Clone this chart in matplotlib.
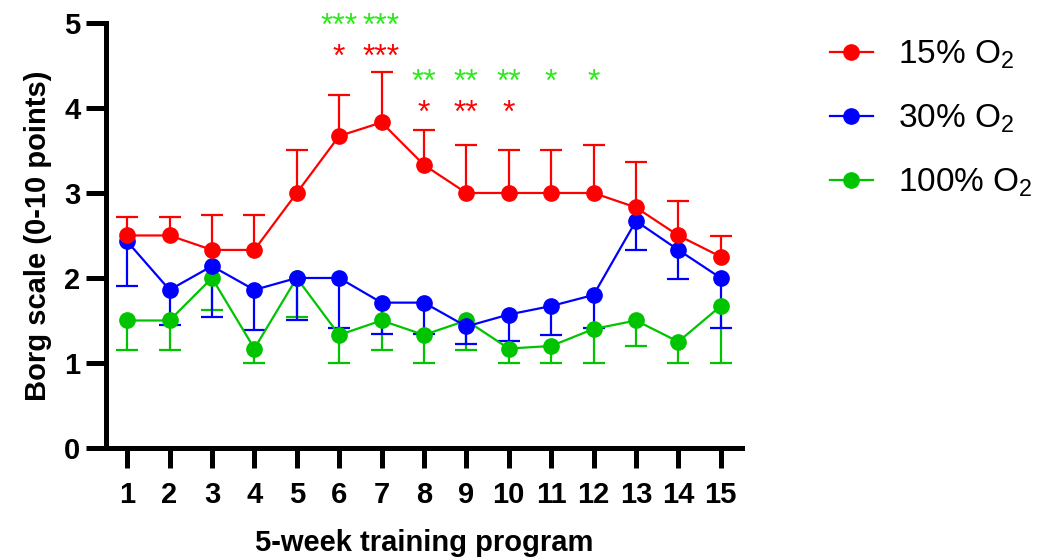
import matplotlib
matplotlib.use("Agg")
import matplotlib.pyplot as plt
import numpy as np

plt.rcParams['font.family'] = ['Liberation Sans', 'DejaVu Sans']
plt.rcParams['mathtext.default'] = 'regular'

sessions = np.arange(1, 16)

# mean Borg scores per session
o2_15 = [2.5, 2.5, 2.33, 2.33, 3.0, 3.67, 3.83, 3.33, 3.0, 3.0, 3.0, 3.0, 2.83, 2.5, 2.25]
o2_30 = [2.43, 1.86, 2.14, 1.86, 2.0, 2.0, 1.71, 1.71, 1.43, 1.57, 1.67, 1.8, 2.67, 2.33, 2.0]
o2_100 = [1.5, 1.5, 2.0, 1.17, 2.0, 1.33, 1.5, 1.33, 1.5, 1.17, 1.2, 1.4, 1.5, 1.25, 1.67]

# error bars (one sided: red up, blue and green down)
err_15 = [0.22, 0.22, 0.41, 0.41, 0.5, 0.48, 0.59, 0.41, 0.56, 0.5, 0.5, 0.56, 0.53, 0.41, 0.24]
err_30 = [0.53, 0.41, 0.6, 0.47, 0.5, 0.59, 0.37, 0.37, 0.21, 0.31, 0.34, 0.39, 0.34, 0.34, 0.59]
err_100 = [0.35, 0.35, 0.38, 0.17, 0.46, 0.33, 0.35, 0.33, 0.35, 0.17, 0.2, 0.4, 0.3, 0.25, 0.67]

# significance marks
stars_100 = ['', '', '', '', '', '***', '***', '**', '**', '**', '*', '*', '', '', '']
stars_15 = ['', '', '', '', '', '*', '***', '*', '**', '*', '', '', '', '', '']

red = '#FF0000'
blue = '#0000FF'
green = '#00C400'
star_green = '#2EE81E'

fig = plt.figure(figsize=(10.46, 5.6), dpi=100)
ax = fig.add_axes([0.1013, 0.2, 0.608, 0.759])


def draw_series(y, err, color, label, upward):
    y = np.array(y)
    err = np.array(err)
    zeros = np.zeros_like(err)
    yerr = [zeros, err] if upward else [err, zeros]
    line, caps, bars = ax.errorbar(sessions, y, yerr=yerr, color=color, marker='o',
                                   markersize=11, linewidth=1.6, elinewidth=1.6,
                                   capsize=8, capthick=1.6, clip_on=False)
    # hide the zero-length cap sitting on the marker
    if upward:
        caps[0].set_visible(False)
    else:
        caps[1].set_visible(False)
    line.set_label(label)
    return line


h100 = draw_series(o2_100, err_100, green, '100% O$_2$', False)
h30 = draw_series(o2_30, err_30, blue, '30% O$_2$', False)
h15 = draw_series(o2_15, err_15, red, '15% O$_2$', True)

# asterisks above the curves
for i, s in enumerate(stars_100):
    if s:
        lvl = 4.86 if i < 7 else 4.2
        ax.text(sessions[i], lvl, s, color=star_green, fontsize=23, ha='center',
                va='baseline', clip_on=False)
for i, s in enumerate(stars_15):
    if s:
        lvl = 4.5 if i < 7 else 3.84
        ax.text(sessions[i], lvl, s, color=red, fontsize=23, ha='center',
                va='baseline', clip_on=False)

ax.set_xlim(0.5, 15.5)
ax.set_ylim(0, 5)
ax.set_xticks(sessions)
ax.set_yticks([0, 1, 2, 3, 4, 5])

for side in ['top', 'right']:
    ax.spines[side].set_visible(False)
for side in ['left', 'bottom']:
    ax.spines[side].set_linewidth(3.6)

ax.tick_params(axis='both', width=3.6, length=14.5, labelsize=21)
ax.tick_params(axis='x', pad=9)
ax.tick_params(axis='y', pad=4)
for lab in ax.get_xticklabels() + ax.get_yticklabels():
    lab.set_fontweight('bold')

ax.set_xlabel('5-week training program', fontsize=21, fontweight='bold', labelpad=15)
ax.set_ylabel('Borg scale (0-10 points)', fontsize=21, fontweight='bold', labelpad=9)

leg = ax.legend(handles=[h15, h30, h100], loc='upper left', bbox_to_anchor=(1.091, 1.033),
                frameon=False, fontsize=24, handlelength=1.3, handletextpad=0.75,
                labelspacing=0.95)

fig.savefig('out.png', dpi=100)
